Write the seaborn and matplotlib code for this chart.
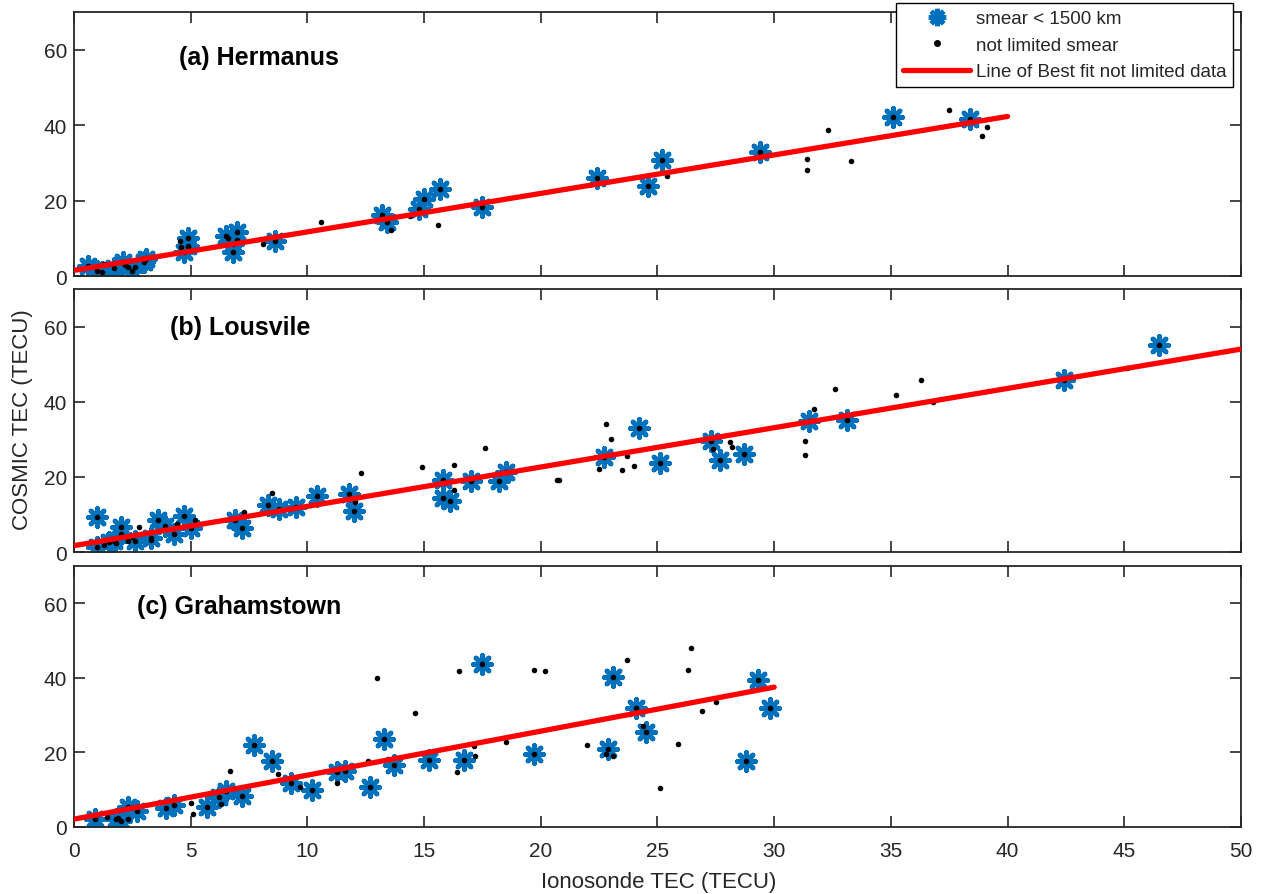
import numpy as np
import matplotlib
matplotlib.use("Agg")
import matplotlib.pyplot as plt
import seaborn as sns
from matplotlib.lines import Line2D

# (a) Hermanus
ha_star_x = [0.6, 1.0, 1.2, 1.7, 2.1, 2.3, 2.5, 3.0, 3.1, 4.7, 4.9, 4.9, 6.5, 6.8, 6.8, 7.0, 8.6,
             13.2, 13.4, 14.8, 15.0, 15.7, 17.5, 22.4, 24.6, 25.2, 29.4, 35.1, 38.4]
ha_star_y = [2.7, 1.4, 1.0, 2.2, 3.6, 2.3, 1.4, 3.6, 4.4, 6.3, 8.0, 10.2, 10.7, 6.3, 8.5, 11.6, 9.3,
             16.1, 14.4, 17.7, 20.4, 23.0, 18.4, 25.9, 23.9, 30.7, 32.9, 42.2, 41.5]
ha_dot_x = [1.3, 2.2, 2.6, 3.1, 4.55, 4.6, 4.9, 6.6, 7.0, 8.1, 10.6, 13.6, 14.4, 15.6, 25.4,
            31.4, 31.4, 32.3, 33.3, 37.5, 38.9, 39.1]
ha_dot_y = [3.2, 2.8, 2.5, 4.9, 9.4, 7.6, 7.8, 10.0, 9.5, 8.6, 14.4, 12.2, 16.0, 13.5, 26.5,
            31.0, 28.0, 38.7, 30.5, 43.9, 37.2, 39.4]

# (b) Lousvile
lo_star_x = [0.97, 1.0, 1.5, 1.7, 2.0, 2.0, 2.6, 3.3, 3.6, 3.9, 4.3, 4.7, 5.0, 6.9, 7.2, 8.3, 8.8,
             9.5, 10.4, 11.8, 12.0, 15.8, 15.8, 16.1, 17.0, 18.2, 18.5, 22.7, 24.2, 25.1, 27.3,
             27.7, 28.7, 31.5, 33.1, 42.4, 46.5]
lo_star_y = [1.4, 9.4, 2.6, 3.0, 6.6, 4.8, 3.0, 3.6, 8.6, 7.0, 4.8, 9.6, 6.3, 8.6, 6.3, 12.4, 11.4,
             11.9, 15.0, 15.4, 10.9, 19.1, 14.3, 13.6, 18.8, 18.8, 21.3, 25.4, 32.9, 23.7, 29.6,
             24.6, 26.1, 34.9, 35.1, 45.9, 55.2]
lo_dot_x = [1.3, 1.8, 2.3, 2.5, 2.8, 3.3, 4.4, 5.2, 7.3, 8.5, 12.05, 12.3, 14.9, 16.3, 16.3, 17.6,
            20.7, 20.8, 22.5, 22.8, 23.0, 23.5, 23.7, 24.0, 27.4, 28.1, 28.2, 31.3, 31.3, 31.7,
            32.6, 35.2, 36.3, 36.8, 45.1]
lo_dot_y = [2.0, 2.5, 3.0, 4.0, 6.6, 3.3, 7.4, 8.6, 10.6, 15.6, 13.4, 21.0, 22.5, 23.1, 16.5, 27.8,
            19.1, 19.2, 22.0, 34.2, 30.0, 21.9, 25.5, 22.8, 27.4, 29.4, 27.9, 29.5, 25.8, 38.0,
            43.4, 41.9, 45.9, 39.8, 49.1]

# (c) Grahamstown
gr_star_x = [0.9, 1.8, 2.0, 2.3, 2.7, 3.95, 4.3, 5.7, 6.2, 6.5, 7.2, 7.7, 8.5, 9.3, 10.2, 11.25,
             11.6, 12.7, 13.3, 13.7, 15.2, 16.7, 17.5, 19.7, 22.9, 23.1, 24.1, 24.5, 28.8, 29.3, 29.8]
gr_star_y = [2.1, 2.1, 1.7, 5.3, 4.4, 5.0, 5.8, 5.3, 8.0, 9.7, 8.2, 22.0, 17.7, 11.8, 10.0, 14.7,
             15.1, 10.6, 23.5, 16.6, 18.0, 17.9, 43.8, 19.6, 20.8, 40.3, 31.8, 25.5, 17.6, 39.3, 31.9]
gr_dot_x = [1.4, 1.9, 2.3, 5.0, 5.1, 6.3, 6.7, 8.75, 9.7, 11.25, 12.6, 13.0, 14.6, 16.4, 16.5,
            17.15, 17.2, 18.5, 19.7, 20.2, 22.0, 22.8, 23.1, 23.7, 24.4, 25.1, 25.9, 26.3, 26.45,
            26.9, 27.5]
gr_dot_y = [2.6, 2.5, 2.1, 6.4, 3.5, 6.2, 14.9, 14.2, 10.6, 11.7, 17.7, 40.0, 30.7, 14.7, 41.8,
            21.6, 18.9, 22.8, 42.2, 41.8, 22.0, 19.6, 19.1, 44.8, 27.1, 10.4, 22.2, 42.2, 48.0,
            31.0, 33.5]

# best fit lines: intercept, slope, last x
fit_intercept = [1.5, 1.7, 2.1]
fit_slope = [1.02, 1.046, 1.18]
fit_xmax = [40, 50, 30]

titles = ["(a) Hermanus", "(b) Lousvile", "(c) Grahamstown"]
title_pos = [(4.5, 58), (4.1, 60), (2.7, 59.2)]

panels = [(ha_star_x, ha_star_y, ha_dot_x, ha_dot_y),
          (lo_star_x, lo_star_y, lo_dot_x, lo_dot_y),
          (gr_star_x, gr_star_y, gr_dot_x, gr_dot_y)]

sns.set_style("ticks")
plt.rcParams["font.family"] = ["Liberation Sans", "DejaVu Sans"]

BLUE = "#0072BD"
GREY = "#262626"
STAR = (8, 2, 0)

fig = plt.figure(figsize=(12.61, 8.95), dpi=100)
boxes = [(0.0587, 0.6905, 0.9254, 0.2950),
         (0.0587, 0.3821, 0.9254, 0.2939),
         (0.0587, 0.0749, 0.9254, 0.2916)]

for i, (sx, sy, dx, dy) in enumerate(panels):
    ax = fig.add_axes(boxes[i])
    sns.scatterplot(x=sx, y=sy, ax=ax, marker=STAR, s=165, color=BLUE,
                    edgecolor=BLUE, linewidth=3.6, zorder=2)
    sns.scatterplot(x=list(sx) + list(dx), y=list(sy) + list(dy), ax=ax, marker="o",
                    s=16, color="black", edgecolor="black", linewidth=0, zorder=3)
    lx = np.array([0, fit_xmax[i]])
    ly = fit_intercept[i] + fit_slope[i] * lx
    sns.lineplot(x=lx, y=ly, ax=ax, color="red", linewidth=3.8, zorder=4)

    ax.set_xlim(0, 50)
    ax.set_ylim(0, 70)
    ax.set_yticks([0, 20, 40, 60])
    ax.set_xticks(range(0, 51, 5))
    ax.tick_params(direction="in", length=8, width=1.2, top=True, right=True,
                   labelsize=15, colors=GREY, labelcolor=GREY)
    ax.tick_params(axis="y", pad=5)
    ax.tick_params(axis="x", pad=10)
    if i < 2:
        ax.tick_params(labelbottom=False)
    for sp in ax.spines.values():
        sp.set_visible(True)
        sp.set_linewidth(1.3)
        sp.set_color(GREY)
    ax.text(title_pos[i][0], title_pos[i][1], titles[i], fontsize=18,
            fontweight="bold", va="center", ha="left", color="black")

fig.text(0.522, 0.0145, "Ionosonde TEC (TECU)", ha="center", va="center",
         fontsize=16, color=GREY)
fig.text(0.018, 0.531, "COSMIC TEC (TECU)", ha="center", va="center",
         rotation=90, fontsize=16, color=GREY)

handles = [Line2D([], [], marker=STAR, color=BLUE, linestyle="none", markersize=12.5,
                  markeredgewidth=3.6),
           Line2D([], [], marker="o", color="black", linestyle="none", markersize=4),
           Line2D([], [], color="red", linewidth=3.8)]
labels = ["smear < 1500 km", "not limited smear", "Line of Best fit not limited data"]
leg = fig.legend(handles, labels, loc="upper right", bbox_to_anchor=(0.978, 0.995),
                 fontsize=13.5, frameon=True, fancybox=False, edgecolor="black",
                 framealpha=1, handlelength=3.6, handletextpad=0.3,
                 labelspacing=0.5, borderpad=0.35, borderaxespad=0)
leg.get_frame().set_linewidth(1.0)

fig.savefig("out.png", dpi=100)
